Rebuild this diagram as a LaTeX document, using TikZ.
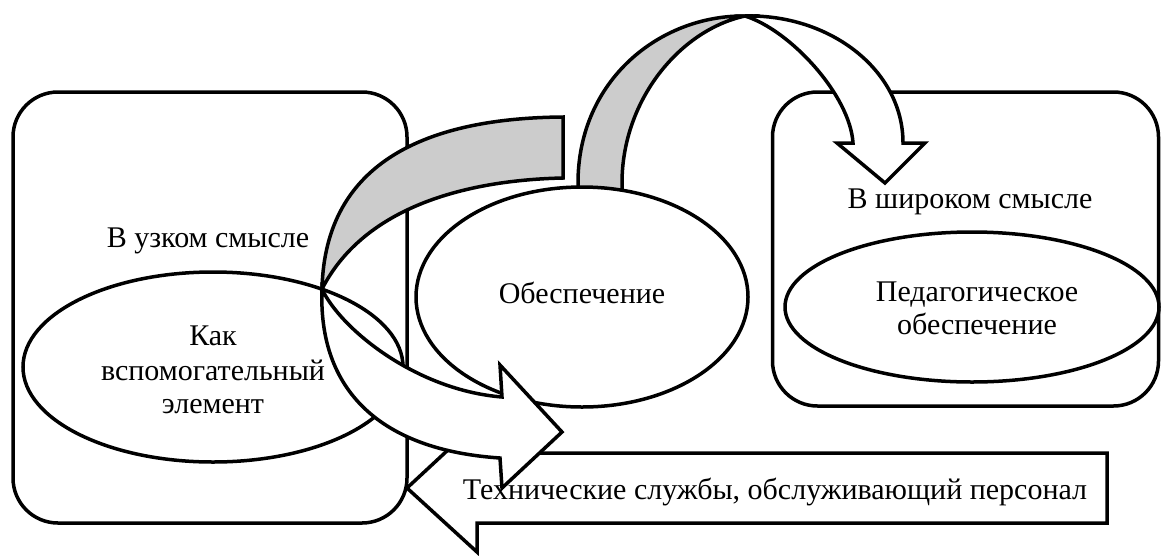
\documentclass[tikz,border=0pt]{standalone}
\usepackage{fontspec}
\setmainfont{Liberation Serif}
\usetikzlibrary{shapes.geometric}
\definecolor{bandgray}{RGB}{204,204,204}
\begin{document}
\begin{tikzpicture}[x=1pt,y=-1pt, line width=3.5pt,
  box/.style={draw, fill=white, rounded corners=45pt, inner sep=0pt},
  oval/.style={draw, fill=white, ellipse, inner sep=0pt},
  lbl/.style={font=\fontsize{30}{35}\selectfont, inner sep=0pt, anchor=base},
  backband/.style={draw, fill=bandgray},
  frontband/.style={draw, fill=white}]
\useasboundingbox (0,0) rectangle (1161,555);

% boxes and ovals
\node[box, minimum width=394pt, minimum height=431pt] (leftbox) at (210,307.5) {};
\node[oval, minimum width=380pt, minimum height=190pt] (auxoval) at (213,367) {};
\node[box, minimum width=386pt, minimum height=314pt] (rightbox) at (965.5,249) {};
\node[oval, minimum width=374pt, minimum height=150pt] (pedoval) at (972,307) {};

% top curved arrow
\coordinate (T) at (745,16);
\draw[backband] (578,200) -- (578,183) .. controls (578,80) and (660,15) .. (T)
  .. controls (680,30) and (622,100) .. (622,183) -- (622,200) -- cycle;
\draw[frontband] (T) .. controls (830,14) and (903,70) .. (903,143) -- (925,143)
  -- (885,183) -- (837,143) -- (853,143) .. controls (850,95) and (790,30) .. (T) -- cycle;

% central oval
\node[oval, minimum width=332pt, minimum height=220pt] (mainoval) at (582,297) {};

% bottom arrow pointing left
\draw[frontband] (1107,453) -- (477,453) -- (477,423) -- (407,488) -- (477,552)
  -- (477,523) -- (1107,523) -- cycle;

% big curved arrow
\coordinate (J) at (322,289);
\draw[backband] (563,117) .. controls (430,118) and (325,160) .. (J)
  .. controls (365,205) and (470,180) .. (563,178) -- cycle;
\draw[frontband] (J) .. controls (318,390) and (380,450) .. (500,458) -- (502,488)
  -- (562,432) -- (500,365) -- (502,397) .. controls (415,390) and (340,328) .. (J) -- cycle;

% labels
\node[lbl] (narrow) at (208,247) {В узком смысле};
\node[lbl] (aux1) at (213,345) {Как};
\node[lbl] (aux2) at (213,380) {вспомогательный};
\node[lbl] (aux3) at (213,413) {элемент};
\node[lbl] (main) at (582,303) {Обеспечение};
\node[lbl] (wide) at (970,208) {В широком смысле};
\node[lbl] (ped1) at (977,301) {Педагогическое};
\node[lbl] (ped2) at (977,334) {обеспечение};
\node[lbl] (tech) at (775,499) {Технические службы, обслуживающий персонал};
\end{tikzpicture}
\end{document}
